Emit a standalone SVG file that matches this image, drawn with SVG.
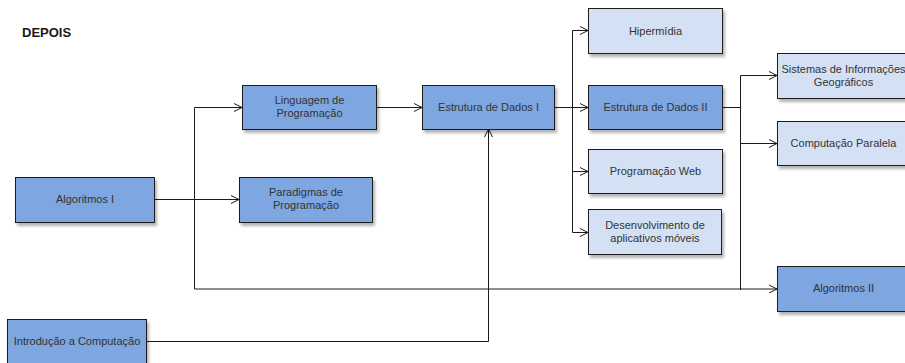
<svg xmlns="http://www.w3.org/2000/svg" width="905" height="363" viewBox="0 0 905 363">
  <style>
    .box { stroke: #1a1a1a; stroke-width: 1; filter: url(#shadow); }
    .dark { fill: #7ea6e0; }
    .light { fill: #d4e1f5; }
    .lbl { font-family: "Liberation Sans", Arial, sans-serif; font-size: 11px; fill: #333333; text-anchor: middle; }
    .title { font-family: "Liberation Sans", Arial, sans-serif; font-size: 13px; font-weight: bold; fill: #1a1a1a; }
    .wire { fill: none; stroke: #1a1a1a; stroke-width: 1; }
    .arrow { marker-end: url(#open); }
  </style>
  <defs>
    <filter id="shadow" x="-10%" y="-10%" width="130%" height="140%">
      <feDropShadow dx="2" dy="3" stdDeviation="1.5" flood-color="#000" flood-opacity="0.3"/>
    </filter>
    <marker id="open" viewBox="0 0 10 10" refX="9" refY="5" markerWidth="10" markerHeight="10" markerUnits="userSpaceOnUse" orient="auto">
      <path d="M1,1 L9,5 L1,9" fill="none" stroke="#1a1a1a" stroke-width="1"/>
    </marker>
  </defs>

  <rect width="905" height="363" fill="#ffffff"/>
  <text class="title" x="22" y="37">DEPOIS</text>

  <!-- connectors -->
  <g id="connectors">
    <!-- Algoritmos I -> Paradigmas -->
    <path class="wire arrow" d="M154,199.5 H239"/>
    <!-- Algoritmos I trunk: Linguagem and Algoritmos II -->
    <path class="wire arrow" d="M194.5,289 V107.5 H242"/>
    <path class="wire arrow" d="M194.5,289 H777"/>
    <!-- Linguagem -> Estrutura I -->
    <path class="wire arrow" d="M376,107.5 H422"/>
    <!-- Introducao -> Estrutura I -->
    <path class="wire arrow" d="M146,341.5 H488.5 V129"/>
    <!-- Estrutura I fan-out -->
    <path class="wire" d="M554,107.5 H572.5"/>
    <path class="wire arrow" d="M572.5,107.5 V30.5 H588"/>
    <path class="wire arrow" d="M572.5,107.5 H588"/>
    <path class="wire arrow" d="M572.5,107.5 V171.5 H588"/>
    <path class="wire arrow" d="M572.5,107.5 V232.5 H588"/>
    <!-- Estrutura II fan-out -->
    <path class="wire" d="M722,107.5 H740.5"/>
    <path class="wire arrow" d="M740.5,107.5 V75.5 H777"/>
    <path class="wire arrow" d="M740.5,107.5 V143.5 H777"/>
    <path class="wire" d="M740.5,107.5 V290"/>
  </g>

  <g id="algoritmos1">
    <rect class="box dark" x="15.5" y="177.5" width="139" height="45"/>
    <text class="lbl" x="85" y="203">Algoritmos I</text>
  </g>
  <g id="linguagem">
    <rect class="box dark" x="242.5" y="85.5" width="134" height="44"/>
    <text class="lbl" x="309.5" y="104">Linguagem de</text>
    <text class="lbl" x="309.5" y="117">Programação</text>
  </g>
  <g id="paradigmas">
    <rect class="box dark" x="239.5" y="177.5" width="133" height="45"/>
    <text class="lbl" x="306" y="196">Paradigmas de</text>
    <text class="lbl" x="306" y="209">Programação</text>
  </g>
  <g id="introducao">
    <rect class="box dark" x="7.5" y="319.5" width="139" height="45"/>
    <text class="lbl" x="77" y="345">Introdução a Computação</text>
  </g>
  <g id="estrutura1">
    <rect class="box dark" x="422.5" y="85.5" width="132" height="44"/>
    <text class="lbl" x="488.5" y="111">Estrutura de Dados I</text>
  </g>
  <g id="hipermidia">
    <rect class="box light" x="588.5" y="8.5" width="134" height="45"/>
    <text class="lbl" x="655.5" y="35">Hipermídia</text>
  </g>
  <g id="estrutura2">
    <rect class="box dark" x="588.5" y="85.5" width="134" height="44"/>
    <text class="lbl" x="655.5" y="111">Estrutura de Dados II</text>
  </g>
  <g id="web">
    <rect class="box light" x="588.5" y="149.5" width="134" height="44"/>
    <text class="lbl" x="655.5" y="175">Programação Web</text>
  </g>
  <g id="moveis">
    <rect class="box light" x="588.5" y="209.5" width="133" height="45"/>
    <text class="lbl" x="655" y="229">Desenvolvimento de</text>
    <text class="lbl" x="655" y="242">aplicativos móveis</text>
  </g>
  <g id="sig">
    <rect class="box light" x="777.5" y="53.5" width="133" height="45"/>
    <text class="lbl" x="843.5" y="73">Sistemas de Informações</text>
    <text class="lbl" x="843.5" y="86">Geográficos</text>
  </g>
  <g id="paralela">
    <rect class="box light" x="777.5" y="121.5" width="133" height="44"/>
    <text class="lbl" x="843.5" y="147">Computação Paralela</text>
  </g>
  <g id="algoritmos2">
    <rect class="box dark" x="777.5" y="266.5" width="133" height="45"/>
    <text class="lbl" x="843.5" y="292">Algoritmos II</text>
  </g>
</svg>
